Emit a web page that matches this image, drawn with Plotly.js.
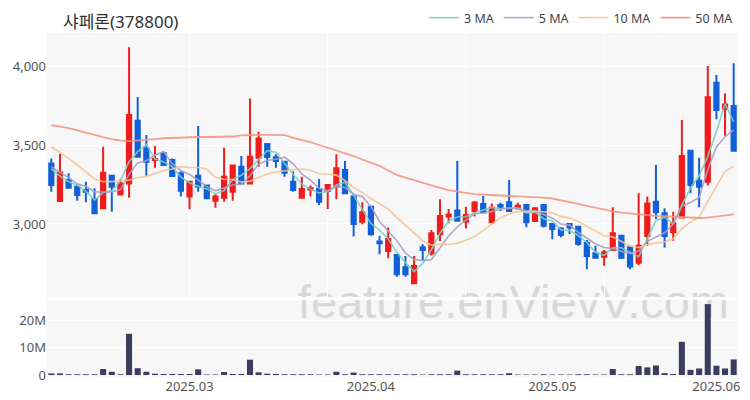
<!DOCTYPE html>
<html><head><meta charset="utf-8">
<script src="https://cdn.plot.ly/plotly-3.0.1.min.js"></script>
<style>html,body{margin:0;padding:0;background:#fff}#chart{width:750px;height:400px}</style>
</head><body><div id="chart"></div>
<script>
const dates = [
 '2025-02-07','2025-02-10','2025-02-11','2025-02-12','2025-02-13','2025-02-14','2025-02-17','2025-02-18','2025-02-19','2025-02-20',
 '2025-02-21','2025-02-24','2025-02-25','2025-02-26','2025-02-27','2025-02-28','2025-03-04','2025-03-05','2025-03-06','2025-03-07',
 '2025-03-10','2025-03-11','2025-03-12','2025-03-13','2025-03-14','2025-03-17','2025-03-18','2025-03-19','2025-03-20','2025-03-21',
 '2025-03-24','2025-03-25','2025-03-26','2025-03-27','2025-03-28','2025-03-31','2025-04-01','2025-04-02','2025-04-03','2025-04-04',
 '2025-04-07','2025-04-08','2025-04-09','2025-04-10','2025-04-11','2025-04-14','2025-04-15','2025-04-16','2025-04-17','2025-04-18',
 '2025-04-21','2025-04-22','2025-04-23','2025-04-24','2025-04-25','2025-04-28','2025-04-29','2025-04-30','2025-05-02','2025-05-07',
 '2025-05-08','2025-05-09','2025-05-12','2025-05-13','2025-05-14','2025-05-15','2025-05-16','2025-05-19','2025-05-20','2025-05-21',
 '2025-05-22','2025-05-23','2025-05-26','2025-05-27','2025-05-28','2025-05-29','2025-05-30','2025-06-02','2025-06-04','2025-06-05'];
const openP = [3385,3146,3280,3237,3216,3159,3100,3307,3188,3258, 3657,3481,3407,3449,3407,3322,3174,3307,3244,3148,
 3167,3205,3364,3258,3421,3508,3424,3396,3269,3167, 3220,3222,3210,3237,3343,3174,3015,3110,2888,2828,
 2803,2725,2623,2852,2814,2934,3047,3085,3015,3083, 3127,3011,3121,3138,3100,3121,3019,3121,3000,2972,
 3000,2983,2881,2814,2792,2835,2926,2852,2754,2924, 3142,3068,2947,3042,3466,3275,3269,3898,3731,3750];
const highP = [3417,3445,3322,3248,3269,3227,3491,3311,3286,4123, 3807,3566,3496,3460,3417,3333,3275,3623,3248,3191,
 3485,3375,3432,3798,3587,3512,3443,3400,3333,3301, 3244,3286,3250,3443,3400,3178,3138,3116,2924,2977,
 2807,2797,2797,2871,2962,3157,3095,3400,3110,3146, 3178,3131,3135,3280,3135,3125,3106,3125,3004,2979,
 3004,2987,2898,2862,2835,3106,2930,2856,3195,3174, 3375,3100,3078,3661,3470,3421,4004,3947,3830,4021];
const lowP = [3205,3142,3227,3148,3138,3068,3095,3078,3184,3167, 3424,3307,3358,3369,3301,3174,3093,3205,3159,3104,
 3142,3148,3254,3254,3364,3364,3358,3301,3205,3163, 3174,3121,3095,3157,3191,2920,2998,2926,2807,2782,
 2665,2665,2623,2771,2799,2892,3004,3021,2972,3047, 3068,3008,3083,3078,3095,2979,3015,2977,2903,2915,
 2936,2862,2712,2782,2735,2828,2778,2712,2739,2862, 3032,2850,2894,3042,3195,3106,3244,3665,3561,3466];
const closeP = [3248,3328,3231,3184,3205,3068,3326,3237,3258,3693, 3428,3396,3413,3375,3305,3212,3269,3237,3163,3174,
 3301,3371,3258,3428,3544,3426,3400,3326,3216,3222, 3227,3142,3248,3354,3195,3000,3074,2934,2877,2905,
 2680,2680,2733,2835,2941,3051,3061,3021,3057,3136, 3074,3104,3110,3083,3116,3011,3100,2989,2968,2930,
 2977,2873,2797,2786,2820,2941,2786,2729,2862,3131, 3074,2924,3004,3432,3248,3237,3805,3724,3760,3466];
const volumeM = [0.6,0.6,0.3,0.3,0.3,0.3,2.2,1.2,0.3,15.0, 2.5,1.2,0.5,0.4,0.4,0.4,0.4,2.1,0.2,0.2,
 1.1,0.4,0.4,5.6,1.0,0.5,0.4,0.3,0.3,0.3, 0.3,0.2,0.2,1.2,0.3,0.9,0.3,0.3,0.3,0.3,
 0.3,0.3,0.3,0.2,0.3,0.3,0.3,1.6,0.3,0.3, 0.3,0.3,0.3,0.7,0.2,0.2,0.2,0.3,0.2,0.2,
 0.2,0.3,0.3,0.2,0.2,2.2,0.3,0.3,3.3,2.8, 3.5,0.7,0.4,12.1,1.9,2.4,25.8,3.4,2.4,5.7];
const ma3Lead = [3350,3305];
const ma5Lead = [3364,3330,3295,3255];
const ma10Lead = [3491,3455,3417,3375,3332,3286,3269,3269,3275];
const ma50 = [3629,3620,3610,3595,3580,3565,3552,3540,3530,3527, 3530,3535,3540,3545,3548,3550,3552,3553,3553,3553,
 3553,3556,3563,3566,3566,3566,3566,3565,3548,3535, 3520,3502,3485,3465,3450,3432,3410,3390,3370,3340,
 3312,3295,3278,3260,3245,3230,3215,3205,3198,3190, 3186,3183,3180,3178,3176,3174,3172,3168,3162,3152,
 3140,3128,3115,3102,3090,3080,3072,3066,3060,3055, 3052,3050,3047,3045,3040,3038,3040,3047,3054,3061];
const tickIdx = [16,37,58,77];
const tickText = ['2025.03','2025.04','2025.05','2025.06'];
const gridIdx = [16,32,48,64];

function movingAvg(n, lead){
  return closeP.map((c,i)=> i < n-1 ? lead[i] : closeP.slice(i-n+1,i+1).reduce((a,b)=>a+b,0)/n);
}
const RED='#f01c1c', BLUE='#1160d8';
const FONT='Noto Sans, Noto Sans CJK KR, sans-serif';

const traces = [
 {type:'candlestick', x:dates, open:openP, high:highP, low:lowP, close:closeP, xaxis:'x', yaxis:'y',
  increasing:{line:{color:RED,width:2}, fillcolor:RED}, decreasing:{line:{color:BLUE,width:2}, fillcolor:BLUE},
  showlegend:false, hoverinfo:'skip'},
 {type:'scatter', mode:'lines', name:'3 MA', x:dates, y:movingAvg(3,ma3Lead), line:{color:'rgba(120,208,196,0.9)',width:1.6}, xaxis:'x', yaxis:'y'},
 {type:'scatter', mode:'lines', name:'5 MA', x:dates, y:movingAvg(5,ma5Lead), line:{color:'rgba(168,156,200,0.9)',width:1.6}, xaxis:'x', yaxis:'y'},
 {type:'scatter', mode:'lines', name:'10 MA', x:dates, y:movingAvg(10,ma10Lead), line:{color:'rgba(242,196,146,0.9)',width:1.6}, xaxis:'x', yaxis:'y'},
 {type:'scatter', mode:'lines', name:'50 MA', x:dates, y:ma50, line:{color:'rgba(243,150,130,0.9)',width:1.8}, xaxis:'x', yaxis:'y'},
 {type:'bar', x:dates, y:volumeM.map(v=>v*1e6), marker:{color:'#3c3c60'}, xaxis:'x2', yaxis:'y2', showlegend:false, hoverinfo:'skip'}
];

const layout = {
 width:750, height:400,
 margin:{l:47, r:12, t:33, b:23, autoexpand:false},
 paper_bgcolor:'#ffffff', plot_bgcolor:'#f7f7f7',
 font:{family:FONT, size:13, color:'#555'},
 title:{text:'샤페론(378800)', x:(63-47)/691, xanchor:'left', xref:'paper', y:0.945, yanchor:'middle', yref:'container',
   pad:{l:0,r:0,t:0,b:0}, font:{family:FONT, size:17, color:'#333'}},
 showlegend:true,
 legend:{orientation:'h', x:1, xanchor:'right', y:1.0, yanchor:'bottom', font:{family:FONT, size:12.5, color:'#444'}, bgcolor:'rgba(0,0,0,0)'},
 bargap:0.3,
 xaxis:{type:'category', domain:[0,1], anchor:'y', range:[-0.5,79.5], rangeslider:{visible:false},
   tickvals:gridIdx.map(i=>dates[i]), showticklabels:false, showgrid:true, gridcolor:'#ffffff', gridwidth:1, zeroline:false, ticks:'', fixedrange:true},
 yaxis:{domain:[0.2326,1], anchor:'x', range:[2536,4214], tickvals:[3000,3500,4000], tickformat:',d',
   showgrid:true, gridcolor:'#ffffff', gridwidth:1, zeroline:false, ticks:'', fixedrange:true},
 xaxis2:{type:'category', domain:[0,1], anchor:'y2', range:[-0.5,79.5], matches:'x',
   tickvals:tickIdx.map(i=>dates[i]), ticktext:tickText, showgrid:false, zeroline:false, ticks:'', fixedrange:true},
 yaxis2:{domain:[0,0.2238], anchor:'x2', range:[-0.7e6,27.3e6], tickvals:[0,1e7,2e7], ticktext:['0','10M','20M'],
   showgrid:true, gridcolor:'#ffffff', gridwidth:1, zeroline:false, ticks:'', fixedrange:true},
 shapes:[
  {type:'rect', xref:'paper', yref:'paper', x0:0.30, x1:1.05, y0:0.13, y1:0.33, line:{width:0}, fillcolor:'rgba(0,0,0,0)', layer:'below',
   label:{text:'feature.enVievV.com', textposition:'middle center', font:{family:'Liberation Sans, Arial, sans-serif', size:47, color:'#d8d8d8'}}},
  {type:'rect', xref:'paper', yref:'paper', x0:0, x1:1, y0:0.2238, y1:0.2326, line:{width:0}, fillcolor:'#ffffff', layer:'below'}
 ]
};
Plotly.newPlot('chart', traces, layout, {displayModeBar:false, staticPlot:true});
</script></body></html>
